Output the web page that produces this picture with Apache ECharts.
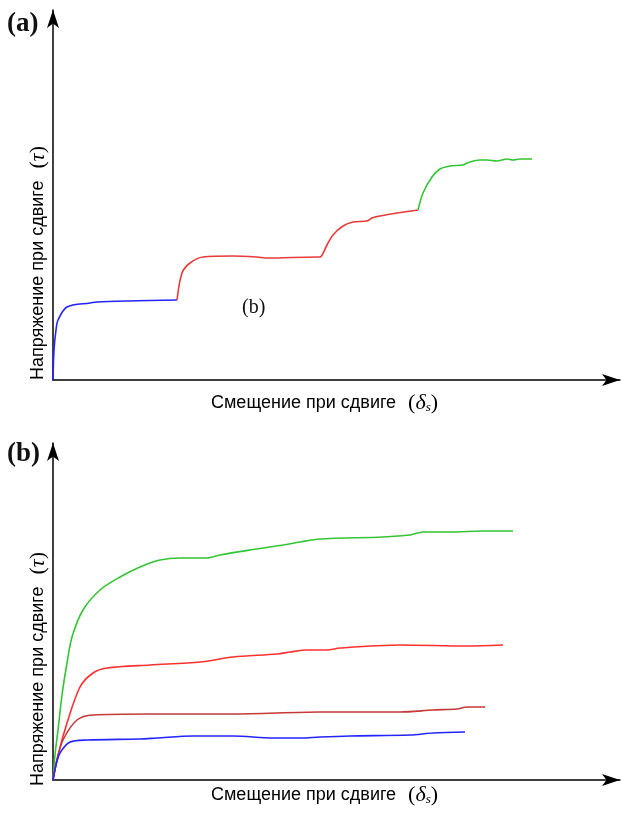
<!DOCTYPE html>
<html>
<head>
<meta charset="utf-8">
<script src="https://cdn.jsdelivr.net/npm/echarts@6/dist/echarts.min.js"></script>
<style>
  html, body { margin: 0; padding: 0; background: #fff; }
  #chart { width: 622px; height: 815px; }
</style>
</head>
<body>
<div id="chart"></div>
<script>
// panel (a): displacement / stress
var blueA = [[0,0],[1,30],[3,50],[5,60],[14,73],[37,77],[44,78],[74,79],[124,80]];
var redA = [[124,80],[129,107],[137,117],[150,123],[180,124],[204,123],[214,122],[264,123],[267,123],[274,135],[280,145],[290,154],[300,158],[314,159],[319,162],[327,164],[344,167],[365,170]];
var greenA = [[365,170],[370,187],[379,203],[387,211],[397,214],[410,215],[414,217],[427,220],[434,220],[444,219],[454,221],[460,220],[467,221],[479,221]];

// panel (b)
var greenB = [[0,0],[2,25],[5,50],[9,85],[14,117],[19,143],[30,170],[47,190],[67,203],[87,213],[107,220],[127,222],[154,222],[167,225],[197,230],[230,235],[247,238],[267,241],[330,243],[357,245],[370,248],[397,248],[430,249],[460,249]];
var redB = [[0,0],[5,25],[14,57],[27,93],[40,107],[54,112],[97,115],[147,118],[180,123],[224,126],[237,128],[254,130],[274,130],[287,132],[347,135],[414,134],[450,135]];
var darkB = [[0,0],[4,20],[10,40],[24,60],[40,65],[97,66],[180,66],[267,68],[347,68],[380,70],[404,71],[414,73],[432,73]];
var blueB = [[0,0],[3,15],[7,27],[17,38],[34,40],[87,41],[104,42],[140,44],[180,44],[220,42],[247,42],[267,43],[297,44],[357,45],[380,47],[412,48]];

var xName = 'Смещение при сдвиге';
var yName = 'Напряжение при сдвиге';

var chart = echarts.init(document.getElementById('chart'));

function axisLine() {
    return {
        show: true,
        symbol: ['none', 'arrow'],
        symbolSize: [9, 18],
        lineStyle: { color: '#000', width: 1.5 }
    };
}

function makeAxis(idx, max) {
    return {
        type: 'value', gridIndex: idx, min: 0, max: max,
        axisLine: axisLine(), axisTick: { show: false },
        axisLabel: { show: false }, splitLine: { show: false }
    };
}

function line(data, color, xi) {
    return {
        type: 'line', data: data, xAxisIndex: xi, yAxisIndex: xi,
        smooth: 0.3, showSymbol: false, silent: true,
        lineStyle: { color: color, width: 1.6 }
    };
}

var rich = {
    t: { fontFamily: 'Liberation Sans', fontSize: 18, color: '#111' },
    g: { fontFamily: 'Liberation Serif', fontSize: 22, fontStyle: 'italic', color: '#111' },
    p: { fontFamily: 'Liberation Serif', fontSize: 22, color: '#111' },
    q: { fontFamily: 'Liberation Serif', fontSize: 22, color: '#111', padding: [0, 0, 0, 12] },
    s: { fontFamily: 'Liberation Serif', fontSize: 13, fontStyle: 'italic', color: '#111', padding: [10, 0, 0, 0] }
};

option = {
    animation: false,
    grid: [
        { left: 53, right: 2, top: 10, bottom: 435 },
        { left: 53, right: 2, top: 443, bottom: 35 }
    ],
    xAxis: [makeAxis(0, 567), makeAxis(1, 567)],
    yAxis: [makeAxis(0, 370), makeAxis(1, 337)],
    series: [
        line(blueA, '#2424ff', 0),
        line(redA, '#e83a3a', 0),
        line(greenA, '#35c435', 0),
        line(greenB, '#35c435', 1),
        line(redB, '#ff3030', 1),
        line(darkB, '#c43a3a', 1),
        line(blueB, '#2424ff', 1)
    ],
    graphic: [
        { type: 'text', left: 7, top: 11, style: { text: '(a)', font: 'bold 27px "Liberation Serif"', fill: '#111' } },
        { type: 'text', left: 7, top: 441, style: { text: '(b)', font: 'bold 27px "Liberation Serif"', fill: '#111' } },
        { type: 'text', left: 242, top: 298, style: { text: '(b)', font: '20px "Liberation Serif"', fill: '#111' } },
        { type: 'text', left: 211, top: 392, style: { text: '{t|' + xName + '}{q|(}{g|δ}{s|s}{p|)}', rich: rich } },
        { type: 'text', left: 211, top: 784, style: { text: '{t|' + xName + '}{q|(}{g|δ}{s|s}{p|)}', rich: rich } },
        { type: 'text', x: 38, y: 380, rotation: Math.PI / 2,
          style: { text: '{t|' + yName + '}{q|(}{g|τ}{p|)}', rich: rich, align: 'left', verticalAlign: 'middle' } },
        { type: 'text', x: 38, y: 786, rotation: Math.PI / 2,
          style: { text: '{t|' + yName + '}{q|(}{g|τ}{p|)}', rich: rich, align: 'left', verticalAlign: 'middle' } }
    ]
};

chart.setOption(option);
</script>
</body>
</html>
